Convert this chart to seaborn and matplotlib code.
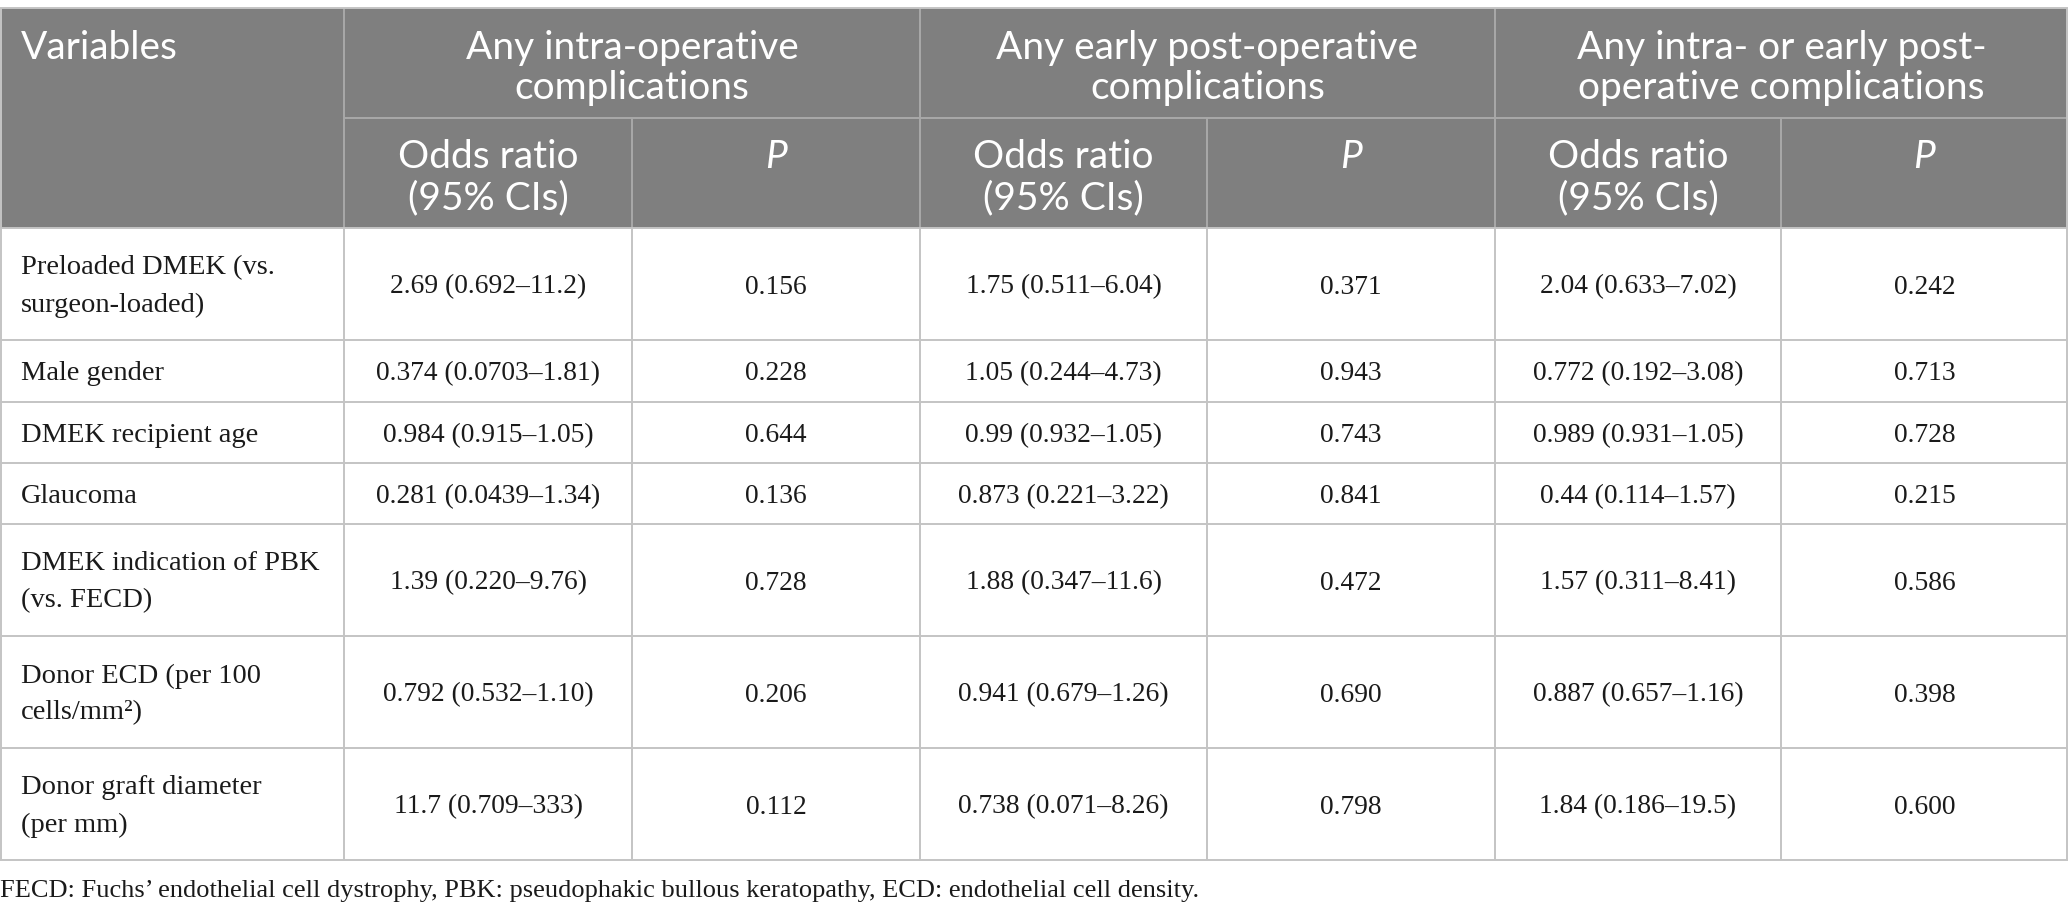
import matplotlib
matplotlib.use("Agg")
import matplotlib.pyplot as plt
import seaborn as sns

# Datos de la tabla
variables = [
    ["Preloaded DMEK (vs.", "surgeon-loaded)"],
    ["Male gender"],
    ["DMEK recipient age"],
    ["Glaucoma"],
    ["DMEK indication of PBK", "(vs. FECD)"],
    ["Donor ECD (per 100", "cells/mm\u00b2)"],
    ["Donor graft diameter", "(per mm)"],
]
grupos = [
    ["Any intra-operative", "complications"],
    ["Any early post-operative", "complications"],
    ["Any intra- or early post-", "operative complications"],
]
or_intra = ["2.69 (0.692\u201311.2)", "0.374 (0.0703\u20131.81)", "0.984 (0.915\u20131.05)",
            "0.281 (0.0439\u20131.34)", "1.39 (0.220\u20139.76)", "0.792 (0.532\u20131.10)",
            "11.7 (0.709\u2013333)"]
p_intra = ["0.156", "0.228", "0.644", "0.136", "0.728", "0.206", "0.112"]
or_post = ["1.75 (0.511\u20136.04)", "1.05 (0.244\u20134.73)", "0.99 (0.932\u20131.05)",
           "0.873 (0.221\u20133.22)", "1.88 (0.347\u201311.6)", "0.941 (0.679\u20131.26)",
           "0.738 (0.071\u20138.26)"]
p_post = ["0.371", "0.943", "0.743", "0.841", "0.472", "0.690", "0.798"]
or_any = ["2.04 (0.633\u20137.02)", "0.772 (0.192\u20133.08)", "0.989 (0.931\u20131.05)",
          "0.44 (0.114\u20131.57)", "1.57 (0.311\u20138.41)", "0.887 (0.657\u20131.16)",
          "1.84 (0.186\u201319.5)"]
p_any = ["0.242", "0.713", "0.728", "0.215", "0.586", "0.398", "0.600"]
nota = ("FECD: Fuchs\u2019 endothelial cell dystrophy, PBK: pseudophakic bullous keratopathy, "
        "ECD: endothelial cell density.")

# Geometría (en píxeles)
W, H = 2068, 915
col_x = [0, 344, 632, 920, 1207, 1495, 1781, 2068]
row_y = [228, 340, 402, 463, 524, 636, 748, 860]
top, h1 = 8, 118

sns.set_theme(style="white")
plt.rcParams["font.family"] = ["Lato", "DejaVu Sans"]

fig = plt.figure(figsize=(W / 100, H / 100), dpi=100)
ax = fig.add_axes([0, 0, 1, 1])
ax.set_xlim(0, W)
ax.set_ylim(H, 0)
ax.axis("off")

gris = "#7f7f7f"
linea_cab = "#a9a9a9"
linea = "#c4c4c4"
cab_font = dict(family=["Lato", "DejaVu Sans"], size=28, color="white")
serif = dict(family=["Liberation Serif", "DejaVu Serif"], color="#1a1a1a")

# Cabecera
ax.axhspan(top, row_y[0], xmin=0, xmax=1, color=gris, lw=0)
ax.hlines(h1, col_x[1], W, color=linea_cab, lw=1.4)
for x in col_x[1:-1]:
    y0 = top if x in (col_x[1], col_x[3], col_x[5]) else h1
    ax.vlines(x, y0, row_y[0], color=linea_cab, lw=1.4)

ax.text(21, 48, "Variables", ha="left", va="center", **cab_font)
for i, g in enumerate(grupos):
    cx = (col_x[1 + 2 * i] + col_x[3 + 2 * i]) / 2
    for j, t in enumerate(g):
        ax.text(cx, 48 + 40 * j, t, ha="center", va="center", **cab_font)
    cx_or = (col_x[1 + 2 * i] + col_x[2 + 2 * i]) / 2
    cx_p = (col_x[2 + 2 * i] + col_x[3 + 2 * i]) / 2
    ax.text(cx_or, 157, "Odds ratio", ha="center", va="center", **cab_font)
    ax.text(cx_or, 198, "(95% CIs)", ha="center", va="center", **cab_font)
    ax.text(cx_p, 157, "P", ha="center", va="center", style="italic", **cab_font)

# Cuerpo
ax.hlines(row_y, 0, W, color=linea, lw=1.4)
ax.hlines(top, 0, W, color=linea, lw=1.4)
ax.vlines(col_x[1:-1], row_y[0], row_y[-1], color=linea, lw=1.4)
ax.vlines([0.7, W - 0.7], top, row_y[-1], color=linea, lw=1.4)

columnas = [or_intra, p_intra, or_post, p_post, or_any, p_any]
for r, lab in enumerate(variables):
    cy = (row_y[r] + row_y[r + 1]) / 2 + 3
    if len(lab) == 1:
        ax.text(21, cy, lab[0], ha="left", va="center", size=20.5, **serif)
    else:
        ax.text(21, cy - 19, lab[0], ha="left", va="center", size=20.5, **serif)
        ax.text(21, cy + 18, lab[1], ha="left", va="center", size=20.5, **serif)
    for c, vals in enumerate(columnas):
        cx = (col_x[c + 1] + col_x[c + 2]) / 2
        ax.text(cx, cy, vals[r], ha="center", va="center", size=19.8, **serif)

ax.text(0, 891, nota, ha="left", va="center", size=19, **serif)

fig.savefig("out.png", dpi=100)
